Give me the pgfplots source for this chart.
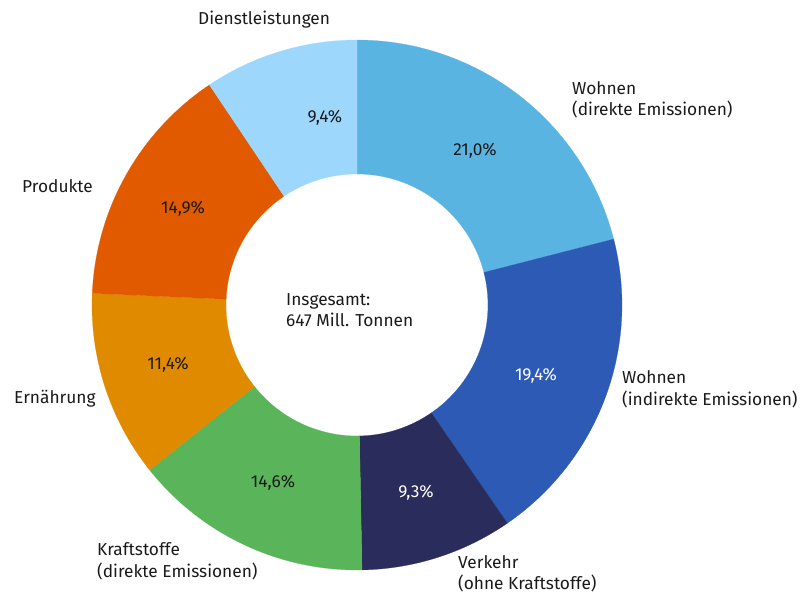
\documentclass[border=0pt]{standalone}
\usepackage{pgfplots}
\pgfplotsset{compat=1.18}
\usepackage{fontspec}
\setmainfont{Fira Sans}
\definecolor{cWd}{HTML}{5AB4E2}
\definecolor{cWi}{HTML}{2C5AB4}
\definecolor{cVe}{HTML}{2A2D5B}
\definecolor{cKr}{HTML}{5AB45A}
\definecolor{cEr}{HTML}{E08A00}
\definecolor{cPr}{HTML}{E25A00}
\definecolor{cDi}{HTML}{9DD8FC}
\definecolor{txt}{HTML}{1A1A1A}
% #1 = cumulative share before the slice, #2 = share (percent), #3 = colour
\newcommand\slice[3]{%
  \addplot[fill=#3, draw=#3, line width=0.2pt, domain=0:3, samples=301, variable=\t]
  ({357 + (265 - 134*max(0,min(1,\t-1)))*cos(90-3.6*(#1 + #2*min(\t,1,3-\t)))},
   {298 + (265 - 134*max(0,min(1,\t-1)))*sin(90-3.6*(#1 + #2*min(\t,1,3-\t)))}) -- cycle;
}
\tikzset{lbl/.style={font=\fontsize{17.3}{21.5}\selectfont, text=txt, inner sep=0pt}}
\begin{document}
\begin{tikzpicture}[font=\fontsize{17.3}{21.5}\selectfont]
\begin{axis}[scale only axis, width=806pt, height=603pt,
  xmin=0, xmax=806, ymin=0, ymax=603, hide axis, clip=false]
\path (axis cs:0,0) rectangle (axis cs:806,603);
\slice{0}{21.0}{cWd}
\slice{21.0}{19.4}{cWi}
\slice{40.4}{9.3}{cVe}
\slice{49.7}{14.6}{cKr}
\slice{64.3}{11.4}{cEr}
\slice{75.7}{14.9}{cPr}
\slice{90.6}{9.4}{cDi}
% percentages
\node[lbl] at (axis cs:325,485) {9,4\%};
\node[lbl] at (axis cs:475,452) {21,0\%};
\node[lbl, text=white] at (axis cs:536,227) {19,4\%};
\node[lbl, text=white] at (axis cs:416,110) {9,3\%};
\node[lbl] at (axis cs:273,120) {14,6\%};
\node[lbl] at (axis cs:168,238) {11,4\%};
\node[lbl] at (axis cs:183,394) {14,9\%};
% centre
\node[lbl, anchor=west, align=left] at (axis cs:286,293) {Insgesamt:\\647 Mill. Tonnen};
% category labels
\node[lbl, anchor=west] at (axis cs:198,583) {Dienstleistungen};
\node[lbl, anchor=west, align=left] at (axis cs:572,503) {Wohnen\\(direkte Emissionen)};
\node[lbl, anchor=west, align=left] at (axis cs:622,213.5) {Wohnen\\(indirekte Emissionen)};
\node[lbl, anchor=west, align=left] at (axis cs:458,29) {Verkehr\\(ohne Kraftstoffe)};
\node[lbl, anchor=west, align=left] at (axis cs:97,41.5) {Kraftstoffe\\(direkte Emissionen)};
\node[lbl, anchor=west] at (axis cs:14,204) {Ernährung};
\node[lbl, anchor=west] at (axis cs:22,417) {Produkte};
\end{axis}
\end{tikzpicture}
\end{document}
